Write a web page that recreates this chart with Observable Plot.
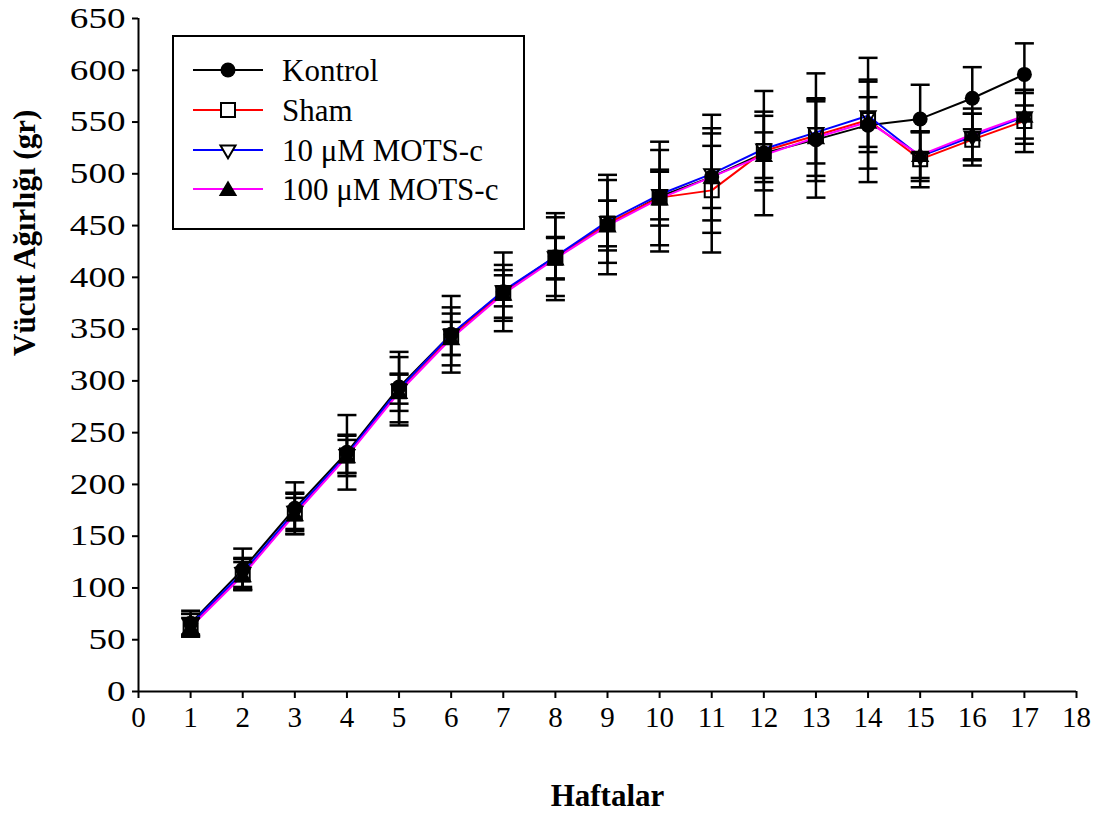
<!DOCTYPE html>
<html>
<head>
<meta charset="utf-8">
<script src="https://cdn.jsdelivr.net/npm/d3@7"></script>
<script src="https://cdn.jsdelivr.net/npm/@observablehq/plot@0.6"></script>
<style>
  body { margin: 0; background: #fff; }
  #wrap { position: relative; width: 1104px; height: 814px; font-family: "Liberation Serif", "Times New Roman", serif; }
  #legend { position: absolute; left: 172px; top: 35px; width: 349px; height: 191px; border: 2px solid #000; background: #fff; }
  .row { position: absolute; left: 0; height: 40px; width: 345px; }
  .row svg { position: absolute; left: 18px; top: 0; }
  .row span { position: absolute; left: 108px; top: 1px; font-size: 31px; line-height: 36px; white-space: nowrap; color: #000; }
</style>
</head>
<body>
<div id="wrap">
  <div id="chart"></div>
  <div id="legend"></div>
</div>
<script>
// ---- data ----
const weeks = [1, 2, 3, 4, 5, 6, 7, 8, 9, 10, 11, 12, 13, 14, 15, 16, 17];
const seriesNames = ["Kontrol", "Sham", "10 μM MOTS-c", "100 μM MOTS-c"];
const seriesColors = ["#000000", "#ff0000", "#0000ff", "#ff00ff"];

const kontrolMean = [66, 118, 177, 231, 294, 345, 386, 420, 451, 478, 497, 520, 533, 547, 553, 573, 596];
const kontrolSD   = [12, 20, 25, 36, 34, 37, 38, 42, 48, 53, 42, 60, 40, 42, 33, 30, 30];
const shamMean    = [64, 113, 172, 228, 290, 343, 385, 419, 452, 477, 484, 522, 537, 552, 514, 533, 551];
const shamSD      = [11, 15, 20, 20, 33, 28, 27, 20, 22, 46, 60, 38, 60, 60, 27, 25, 30];
const mots10Mean  = [65, 115, 174, 229, 292, 345, 387, 420, 454, 480, 500, 524, 540, 556, 517, 536, 555];
const mots10SD    = [10, 14, 17, 18, 14, 20, 15, 38, 40, 24, 57, 32, 30, 35, 24, 22, 26];
const mots100Mean = [62, 112, 171, 227, 289, 341, 384, 418, 450, 476, 497, 518, 535, 550, 518, 538, 556];
const mots100SD   = [9, 13, 16, 16, 18, 16, 23, 20, 24, 26, 30, 22, 37, 24, 22, 25, 22];

const yTicks = [0, 50, 100, 150, 200, 250, 300, 350, 400, 450, 500, 550, 600, 650];
const xTicks = [0, 1, 2, 3, 4, 5, 6, 7, 8, 9, 10, 11, 12, 13, 14, 15, 16, 17, 18];

// ---- tables ----
const means = [kontrolMean, shamMean, mots10Mean, mots100Mean];
const sds = [kontrolSD, shamSD, mots10SD, mots100SD];
const rows = seriesNames.flatMap((g, i) => weeks.map((w, j) => ({group: g, week: w, mean: means[i][j], sd: sds[i][j]})));
const bySeries = name => rows.filter(d => d.group === name);

// ---- custom symbols ----
const rOf = size => Math.sqrt(size / Math.PI);
const capSym = {draw(ctx, size) { const r = rOf(size); ctx.moveTo(-r, 0); ctx.lineTo(r, 0); }};
const squareSym = {draw(ctx, size) { const r = rOf(size); ctx.rect(-r, -r, 2 * r, 2 * r); }};
const invTriSym = {draw(ctx, size) { const r = rOf(size); ctx.moveTo(-r, -0.6 * r); ctx.lineTo(r, -0.6 * r); ctx.lineTo(0, 1.1 * r); ctx.closePath(); }};
const triSym = {draw(ctx, size) { const r = rOf(size); ctx.moveTo(0, -1.05 * r); ctx.lineTo(1.15 * r, 0.85 * r); ctx.lineTo(-1.15 * r, 0.85 * r); ctx.closePath(); }};

const font = '"Liberation Serif", "Times New Roman", serif';

const chart = Plot.plot({
  width: 1104,
  height: 814,
  marginLeft: 138,
  marginRight: 28,
  marginTop: 18,
  marginBottom: 123,
  style: {fontFamily: font, fontSize: "28px", color: "#000", background: "#fff", overflow: "visible"},
  x: {domain: [0, 18], ticks: xTicks},
  y: {domain: [0, 650], ticks: yTicks},
  marks: [
    Plot.axisX({ticks: xTicks, tickSize: 7, tickPadding: 8, tickFormat: d => String(d), label: null, strokeWidth: 2, fontSize: 29}),
    Plot.axisY({ticks: yTicks, tickSize: 6, tickPadding: 7, tickFormat: d => String(d), label: null, strokeWidth: 2, fontSize: 29}),
    Plot.ruleX([0], {stroke: "#000", strokeWidth: 2}),
    Plot.ruleY([0], {stroke: "#000", strokeWidth: 2}),
    // series lines
    Plot.line(bySeries(seriesNames[0]), {x: "week", y: "mean", stroke: seriesColors[0], strokeWidth: 2}),
    Plot.line(bySeries(seriesNames[1]), {x: "week", y: "mean", stroke: seriesColors[1], strokeWidth: 2}),
    Plot.line(bySeries(seriesNames[2]), {x: "week", y: "mean", stroke: seriesColors[2], strokeWidth: 2}),
    Plot.line(bySeries(seriesNames[3]), {x: "week", y: "mean", stroke: seriesColors[3], strokeWidth: 2}),
    // error bars
    Plot.ruleX(rows, {x: "week", y1: d => d.mean - d.sd, y2: d => d.mean + d.sd, stroke: "#000", strokeWidth: 2.5}),
    Plot.dot(rows, {x: "week", y: d => d.mean + d.sd, symbol: capSym, r: 9.5, fill: "none", stroke: "#000", strokeWidth: 2.5}),
    Plot.dot(rows, {x: "week", y: d => d.mean - d.sd, symbol: capSym, r: 9.5, fill: "none", stroke: "#000", strokeWidth: 2.5}),
    // markers
    Plot.dot(bySeries(seriesNames[0]), {x: "week", y: "mean", symbol: "circle", r: 7.5, fill: "#000", stroke: "none"}),
    Plot.dot(bySeries(seriesNames[1]), {x: "week", y: "mean", symbol: squareSym, r: 7, fill: "none", stroke: "#000", strokeWidth: 2}),
    Plot.dot(bySeries(seriesNames[2]), {x: "week", y: "mean", symbol: invTriSym, r: 7.5, fill: "none", stroke: "#000", strokeWidth: 2}),
    Plot.dot(bySeries(seriesNames[3]), {x: "week", y: "mean", symbol: triSym, r: 8, fill: "#000", stroke: "none"}),
    // axis titles
    Plot.text(["Haftalar"], {frameAnchor: "bottom", dy: 114, text: d => d, fontWeight: "bold", fontSize: 31, fill: "#000"}),
    Plot.text(["Vücut Ağırlığı (gr)"], {frameAnchor: "left", dx: -113, dy: 1, rotate: -90, text: d => d, fontWeight: "bold", fontSize: 31, fill: "#000"})
  ]
});
document.getElementById("chart").appendChild(chart);

// widen the y tick labels like the reference (scale about each label's right edge)
chart.querySelectorAll('g[aria-label="y-axis tick label"] text').forEach(t => {
  const bb = t.getBBox();
  const px = bb.x + bb.width;
  const prev = t.getAttribute("transform") || "";
  t.setAttribute("transform", `${prev} translate(${px},0) scale(1.28,1) translate(${-px},0)`);
});

// ---- legend (HTML overlay) ----
const legend = document.getElementById("legend");
const legendTops = [15, 55, 95, 134];
const markerSvg = [
  '<circle cx="36" cy="18" r="7.5" fill="#000"/>',
  '<rect x="29" y="11" width="14" height="14" fill="#fff" stroke="#000" stroke-width="2"/>',
  '<path d="M28.5,13.5 L43.5,13.5 L36,26.2 Z" fill="#fff" stroke="#000" stroke-width="2"/>',
  '<path d="M36,9.6 L45.2,25 L26.8,25 Z" fill="#000"/>'
];
seriesNames.forEach((name, i) => {
  const row = document.createElement("div");
  row.className = "row";
  row.style.top = legendTops[i] + "px";
  row.innerHTML = `<svg width="72" height="36" viewBox="0 0 72 36"><line x1="1" y1="18" x2="71" y2="18" stroke="${seriesColors[i]}" stroke-width="2"/>${markerSvg[i]}</svg><span>${name}</span>`;
  legend.appendChild(row);
});
</script>
</body>
</html>
